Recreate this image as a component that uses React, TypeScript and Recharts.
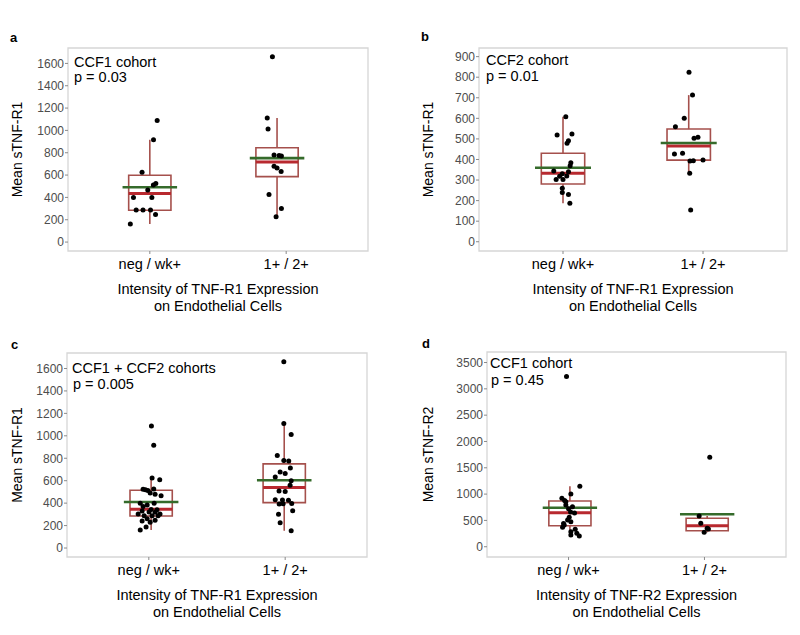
import React from 'react';
import { ComposedChart, Scatter, XAxis, YAxis, ReferenceArea, ReferenceLine } from 'recharts';

const categories = ['neg / wk+', '1+ / 2+'];

// a: CCF1 cohort, sTNF-R1
const aNegY = [1088, 916, 625, 525, 512, 466, 400, 400, 288, 288, 288, 247, 161];
const aNegX = [1.054, 1.027, 0.943, 1.044, 1.026, 0.985, 0.88, 1.015, 0.9, 0.95, 1.005, 1.042, 0.857];
const aPosY = [1659, 1110, 1012, 780, 775, 770, 678, 664, 633, 426, 300, 226];
const aPosX = [1.899, 1.861, 1.867, 1.911, 1.948, 1.965, 1.911, 1.933, 1.963, 1.874, 1.965, 1.926];

// b: CCF2 cohort, sTNF-R1
const bNegY = [608, 519, 524, 491, 479, 384, 370, 344, 340, 330, 320, 318, 303, 303, 260, 240, 230, 187];
const bNegX = [1.02, 0.958, 1.064, 1.039, 1.029, 1.056, 1.051, 0.934, 1.039, 0.995, 1.027, 0.976, 0.951, 1.0, 0.995, 0.995, 1.039, 1.049];
const bPosY = [824, 713, 600, 559, 503, 508, 427, 430, 392, 394, 397, 333, 154];
const bPosX = [1.9, 1.925, 1.866, 1.803, 1.936, 1.964, 1.796, 1.854, 1.907, 1.931, 2.0, 1.905, 1.912];

// c: CCF1 + CCF2 cohorts, sTNF-R1
const cNegY = [1088, 916, 625, 608, 524, 525, 519, 512, 491, 479, 466, 400, 400, 384, 370, 344, 340, 330, 320, 318, 303, 303, 288, 288, 288, 260, 247, 240, 230, 187, 161];
const cNegX = [1.019, 1.036, 1.024, 1.08, 0.958, 1.036, 0.975, 0.993, 1.01, 1.046, 1.09, 0.937, 1.039, 0.988, 0.958, 1.017, 1.06, 0.951, 1.002, 1.046, 0.922, 1.082, 0.966, 1.024, 1.068, 0.988, 1.046, 0.951, 1.01, 0.98, 0.937];
const cPosY = [1659, 1110, 1012, 824, 780, 775, 713, 678, 664, 633, 600, 559, 508, 503, 430, 427, 426, 397, 394, 392, 333, 300, 226, 154];
const cPosX = [1.99, 1.99, 2.044, 1.942, 1.99, 2.026, 2.038, 1.963, 2.0, 1.927, 2.044, 2.036, 1.955, 2.0, 1.927, 1.98, 2.024, 2.048, 1.985, 1.956, 2.055, 1.951, 1.963, 2.044];

// d: CCF1 cohort, sTNF-R2
const dNegY = [3234, 1150, 1000, 920, 880, 856, 793, 761, 720, 660, 640, 559, 508, 476, 440, 413, 369, 331, 285, 255, 222, 203];
const dNegX = [0.985, 1.083, 1.017, 0.951, 0.971, 0.98, 0.98, 1.029, 1.0, 1.015, 1.044, 1.005, 0.993, 1.017, 0.963, 0.968, 0.956, 1.049, 1.017, 1.061, 1.017, 1.079];
const dPosY = [1700, 584, 445, 350, 337, 274];
const dPosX = [2.039, 1.961, 1.973, 2.02, 2.029, 1.998];

// box summaries: [neg / wk+, 1+ / 2+]
const aCenter = [1.0, 1.933];
const aQ1 = [285, 586];
const aMedian = [434, 717];
const aQ3 = [598, 845];
const aLow = [161, 226];
const aHigh = [916, 1110];
const aMean = [491, 752];

const bCenter = [1.0, 1.898];
const bQ1 = [281, 397];
const bMedian = [333, 465];
const bQ3 = [430, 548];
const bLow = [187, 333];
const bHigh = [608, 713];
const bMean = [360, 480];

const cCenter = [1.017, 1.993];
const cQ1 = [285, 405];
const cMedian = [345, 539];
const cQ3 = [515, 750];
const cLow = [161, 154];
const cHigh = [625, 1110];
const cMean = [410, 604];

const dCenter = [1.01, 2.02];
const dQ1 = [400, 305];
const dMedian = [647, 400];
const dQ3 = [869, 540];
const dLow = [203, 274];
const dHigh = [1150, 584];
const dMean = [742, 616];

const r1Ticks = [0, 200, 400, 600, 800, 1000, 1200, 1400, 1600];
const bTicks = [0, 100, 200, 300, 400, 500, 600, 700, 800, 900];
const dTicks = [0, 500, 1000, 1500, 2000, 2500, 3000, 3500];

const BOX_HALF = 0.155;
const MEAN_HALF = 0.2;
const BOX_COLOR = '#a5504c';
const MEDIAN_COLOR = '#b8292f';
const MEAN_COLOR = '#356b2b';

const zip = (xs: number[], ys: number[]) => ys.map((y, i) => ({ x: xs[i], y }));

const Dot = (props: any) => <circle cx={props.cx} cy={props.cy} r={2.5} fill="#000" />;

const makeXTitle = (line1: string, line2: string) => (props: any) => {
  const vb = props.viewBox || {};
  const cx = vb.x + vb.width / 2;
  return (
    <text x={cx} y={vb.y + 43} textAnchor="middle" fontSize={14.5} fill="#000">
      <tspan x={cx}>{line1}</tspan>
      <tspan x={cx} dy={16.5}>{line2}</tspan>
    </text>
  );
};

const makeYTitle = (title: string, offset: number) => (props: any) => {
  const vb = props.viewBox || {};
  const x = vb.x + offset;
  const y = vb.y + vb.height / 2;
  return (
    <text x={x} y={y} transform={`rotate(-90, ${x}, ${y})`} textAnchor="middle" dominantBaseline="central" fontSize={14} fill="#000">
      {title}
    </text>
  );
};

interface PanelProps {
  left: number;
  top: number;
  width: number;
  height: number;
  marginTop: number;
  marginRight: number;
  yWidth: number;
  xHeight: number;
  yDomain: number[];
  yTicks: number[];
  yTitle: string;
  yTitleOffset: number;
  xTitle: string;
  points: { x: number; y: number }[];
  center: number[];
  q1: number[];
  median: number[];
  q3: number[];
  low: number[];
  high: number[];
  mean: number[];
}

function Panel(p: PanelProps) {
  return (
    <div style={{ position: 'absolute', left: p.left, top: p.top }}>
      <ComposedChart width={p.width} height={p.height} margin={{ top: p.marginTop, right: p.marginRight, left: 0, bottom: 0 }}>
        <XAxis
          type="number"
          dataKey="x"
          domain={[0.4, 2.6]}
          allowDataOverflow
          ticks={[1, 2]}
          interval={0}
          tickFormatter={(v: number) => categories[Math.round(v) - 1]}
          axisLine={false}
          tickLine={{ stroke: '#8a8a8a' }}
          tickSize={3}
          tickMargin={5}
          height={p.xHeight}
          tick={{ fontSize: 14.5, fill: '#000' }}
          label={makeXTitle(p.xTitle, 'on Endothelial Cells')}
        />
        <YAxis
          type="number"
          dataKey="y"
          domain={p.yDomain}
          allowDataOverflow
          ticks={p.yTicks}
          interval={0}
          width={p.yWidth}
          axisLine={false}
          tickLine={{ stroke: '#8a8a8a' }}
          tickSize={3}
          tickMargin={1}
          tick={{ fontSize: 12, fill: '#4d4d4d' }}
          label={makeYTitle(p.yTitle, p.yTitleOffset)}
        />
        <ReferenceArea x1={0.4} x2={2.6} y1={p.yDomain[0]} y2={p.yDomain[1]} fill="none" fillOpacity={0} stroke="#d6d6d6" strokeWidth={1.3} ifOverflow="visible" />
        {p.center.map((c, i) => (
          <ReferenceArea key={`box${i}`} x1={c - BOX_HALF} x2={c + BOX_HALF} y1={p.q1[i]} y2={p.q3[i]} fill="none" fillOpacity={0} stroke={BOX_COLOR} strokeWidth={1.6} ifOverflow="visible" />
        ))}
        {p.center.map((c, i) => (
          <ReferenceLine key={`wu${i}`} segment={[{ x: c, y: p.q3[i] }, { x: c, y: p.high[i] }]} stroke={BOX_COLOR} strokeWidth={1.6} ifOverflow="visible" />
        ))}
        {p.center.map((c, i) => (
          <ReferenceLine key={`wl${i}`} segment={[{ x: c, y: p.low[i] }, { x: c, y: p.q1[i] }]} stroke={BOX_COLOR} strokeWidth={1.6} ifOverflow="visible" />
        ))}
        {p.center.map((c, i) => (
          <ReferenceLine key={`md${i}`} segment={[{ x: c - BOX_HALF, y: p.median[i] }, { x: c + BOX_HALF, y: p.median[i] }]} stroke={MEDIAN_COLOR} strokeWidth={3} ifOverflow="visible" />
        ))}
        {p.center.map((c, i) => (
          <ReferenceLine key={`mn${i}`} segment={[{ x: c - MEAN_HALF, y: p.mean[i] }, { x: c + MEAN_HALF, y: p.mean[i] }]} stroke={MEAN_COLOR} strokeWidth={2.6} ifOverflow="visible" />
        ))}
        <Scatter data={p.points} isAnimationActive={false} shape={Dot} />
      </ComposedChart>
    </div>
  );
}

const textStyle: React.CSSProperties = { position: 'absolute', fontSize: 14.5, lineHeight: '16px', color: '#000', whiteSpace: 'nowrap' };
const letterStyle: React.CSSProperties = { position: 'absolute', fontSize: 13, fontWeight: 'bold', lineHeight: '14px', color: '#000' };

export default function App() {
  return (
    <div style={{ position: 'absolute', left: 0, top: 0, width: 800, height: 635, background: '#fff', fontFamily: '"Liberation Sans", Arial, sans-serif' }}>
      <Panel
        left={0} top={20} width={390} height={300} marginTop={28} marginRight={22} yWidth={68} xHeight={69}
        yDomain={[-80, 1738]} yTicks={r1Ticks} yTitle="Mean sTNF-R1" yTitleOffset={17}
        xTitle="Intensity of TNF-R1 Expression"
        points={[...zip(aNegX, aNegY), ...zip(aPosX, aPosY)]}
        center={aCenter} q1={aQ1} median={aMedian} q3={aQ3} low={aLow} high={aHigh} mean={aMean}
      />
      <Panel
        left={400} top={20} width={400} height={300} marginTop={28} marginRight={13} yWidth={79} xHeight={69}
        yDomain={[-45, 942]} yTicks={bTicks} yTitle="Mean sTNF-R1" yTitleOffset={28}
        xTitle="Intensity of TNF-R1 Expression"
        points={[...zip(bNegX, bNegY), ...zip(bPosX, bPosY)]}
        center={bCenter} q1={bQ1} median={bMedian} q3={bQ3} low={bLow} high={bHigh} mean={bMean}
      />
      <Panel
        left={0} top={320} width={390} height={315} marginTop={33} marginRight={23} yWidth={67} xHeight={78}
        yDomain={[-80, 1738]} yTicks={r1Ticks} yTitle="Mean sTNF-R1" yTitleOffset={17}
        xTitle="Intensity of TNF-R1 Expression"
        points={[...zip(cNegX, cNegY), ...zip(cPosX, cPosY)]}
        center={cCenter} q1={cQ1} median={cMedian} q3={cQ3} low={cLow} high={cHigh} mean={cMean}
      />
      <Panel
        left={400} top={320} width={400} height={315} marginTop={32} marginRight={14} yWidth={87} xHeight={78}
        yDomain={[-195, 3700]} yTicks={dTicks} yTitle="Mean sTNF-R2" yTitleOffset={28}
        xTitle="Intensity of TNF-R2 Expression"
        points={[...zip(dNegX, dNegY), ...zip(dPosX, dPosY)]}
        center={dCenter} q1={dQ1} median={dMedian} q3={dQ3} low={dLow} high={dHigh} mean={dMean}
      />

      <div style={{ ...letterStyle, left: 10, top: 31 }}>a</div>
      <div style={{ ...letterStyle, left: 421, top: 30 }}>b</div>
      <div style={{ ...letterStyle, left: 11, top: 338 }}>c</div>
      <div style={{ ...letterStyle, left: 422, top: 337 }}>d</div>

      <div style={{ ...textStyle, left: 74, top: 54 }}>CCF1 cohort</div>
      <div style={{ ...textStyle, left: 74, top: 69 }}>p = 0.03</div>
      <div style={{ ...textStyle, left: 486, top: 52 }}>CCF2 cohort</div>
      <div style={{ ...textStyle, left: 486, top: 68 }}>p = 0.01</div>
      <div style={{ ...textStyle, left: 72, top: 360 }}>CCF1 + CCF2 cohorts</div>
      <div style={{ ...textStyle, left: 73, top: 376 }}>p = 0.005</div>
      <div style={{ ...textStyle, left: 490, top: 355 }}>CCF1 cohort</div>
      <div style={{ ...textStyle, left: 491, top: 372 }}>p = 0.45</div>
    </div>
  );
}
